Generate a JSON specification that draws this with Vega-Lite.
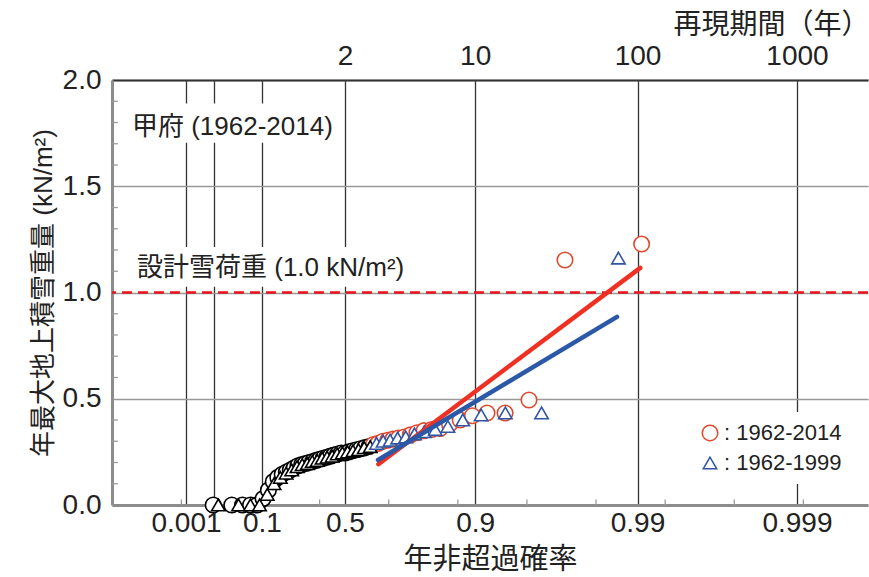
{
  "$schema": "https://vega.github.io/schema/vega-lite/v6.json",
  "width": 756,
  "height": 425,
  "autosize": "none",
  "padding": {"left": 112, "top": 80, "right": 1, "bottom": 72},
  "background": "white",
  "config": {"view": {"stroke": null}, "font": "Liberation Sans, Noto Sans CJK JP"},
  "resolve": {"axis": {"x": "independent"}},
  "datasets": {
    "pts": [
      {"series": "1962-2014", "gumbel": -1.5397, "snow": 0},
      {"series": "1962-2014", "gumbel": -1.2711, "snow": 0},
      {"series": "1962-2014", "gumbel": -1.1165, "snow": 0},
      {"series": "1962-2014", "gumbel": -0.9997, "snow": 0},
      {"series": "1962-2014", "gumbel": -0.9027, "snow": 0},
      {"series": "1962-2014", "gumbel": -0.8177, "snow": 0.03},
      {"series": "1962-2014", "gumbel": -0.7412, "snow": 0.07},
      {"series": "1962-2014", "gumbel": -0.6706, "snow": 0.11},
      {"series": "1962-2014", "gumbel": -0.6045, "snow": 0.13},
      {"series": "1962-2014", "gumbel": -0.5417, "snow": 0.145},
      {"series": "1962-2014", "gumbel": -0.4817, "snow": 0.155},
      {"series": "1962-2014", "gumbel": -0.4239, "snow": 0.165},
      {"series": "1962-2014", "gumbel": -0.3678, "snow": 0.175},
      {"series": "1962-2014", "gumbel": -0.3130, "snow": 0.185},
      {"series": "1962-2014", "gumbel": -0.2593, "snow": 0.19},
      {"series": "1962-2014", "gumbel": -0.2066, "snow": 0.195},
      {"series": "1962-2014", "gumbel": -0.1544, "snow": 0.2},
      {"series": "1962-2014", "gumbel": -0.1026, "snow": 0.205},
      {"series": "1962-2014", "gumbel": -0.0512, "snow": 0.21},
      {"series": "1962-2014", "gumbel": 0.0001, "snow": 0.215},
      {"series": "1962-2014", "gumbel": 0.0514, "snow": 0.22},
      {"series": "1962-2014", "gumbel": 0.1029, "snow": 0.225},
      {"series": "1962-2014", "gumbel": 0.1547, "snow": 0.23},
      {"series": "1962-2014", "gumbel": 0.2067, "snow": 0.235},
      {"series": "1962-2014", "gumbel": 0.2593, "snow": 0.24},
      {"series": "1962-2014", "gumbel": 0.3125, "snow": 0.245},
      {"series": "1962-2014", "gumbel": 0.3665, "snow": 0.245},
      {"series": "1962-2014", "gumbel": 0.4214, "snow": 0.25},
      {"series": "1962-2014", "gumbel": 0.4774, "snow": 0.255},
      {"series": "1962-2014", "gumbel": 0.5347, "snow": 0.26},
      {"series": "1962-2014", "gumbel": 0.5932, "snow": 0.265},
      {"series": "1962-2014", "gumbel": 0.6534, "snow": 0.27},
      {"series": "1962-2014", "gumbel": 0.7154, "snow": 0.275},
      {"series": "1962-2014", "gumbel": 0.7793, "snow": 0.285},
      {"series": "1962-2014", "gumbel": 0.8456, "snow": 0.29},
      {"series": "1962-2014", "gumbel": 0.9143, "snow": 0.3},
      {"series": "1962-2014", "gumbel": 0.9862, "snow": 0.305},
      {"series": "1962-2014", "gumbel": 1.0615, "snow": 0.31},
      {"series": "1962-2014", "gumbel": 1.1407, "snow": 0.315},
      {"series": "1962-2014", "gumbel": 1.2242, "snow": 0.32},
      {"series": "1962-2014", "gumbel": 1.3130, "snow": 0.33},
      {"series": "1962-2014", "gumbel": 1.4081, "snow": 0.34},
      {"series": "1962-2014", "gumbel": 1.5105, "snow": 0.35},
      {"series": "1962-2014", "gumbel": 1.6220, "snow": 0.355},
      {"series": "1962-2014", "gumbel": 1.7441, "snow": 0.36},
      {"series": "1962-2014", "gumbel": 1.8800, "snow": 0.38},
      {"series": "1962-2014", "gumbel": 2.0340, "snow": 0.4},
      {"series": "1962-2014", "gumbel": 2.2110, "snow": 0.42},
      {"series": "1962-2014", "gumbel": 2.4224, "snow": 0.433},
      {"series": "1962-2014", "gumbel": 2.6836, "snow": 0.433},
      {"series": "1962-2014", "gumbel": 3.0299, "snow": 0.494},
      {"series": "1962-2014", "gumbel": 3.5505, "snow": 1.153},
      {"series": "1962-2014", "gumbel": 4.6594, "snow": 1.228},
      {"series": "1962-1999", "gumbel": -1.4658, "snow": 0},
      {"series": "1962-1999", "gumbel": -1.1731, "snow": 0},
      {"series": "1962-1999", "gumbel": -1.0011, "snow": 0},
      {"series": "1962-1999", "gumbel": -0.8691, "snow": 0},
      {"series": "1962-1999", "gumbel": -0.7578, "snow": 0.05},
      {"series": "1962-1999", "gumbel": -0.6591, "snow": 0.1},
      {"series": "1962-1999", "gumbel": -0.5685, "snow": 0.13},
      {"series": "1962-1999", "gumbel": -0.4842, "snow": 0.15},
      {"series": "1962-1999", "gumbel": -0.4038, "snow": 0.165},
      {"series": "1962-1999", "gumbel": -0.3266, "snow": 0.18},
      {"series": "1962-1999", "gumbel": -0.2517, "snow": 0.19},
      {"series": "1962-1999", "gumbel": -0.1782, "snow": 0.195},
      {"series": "1962-1999", "gumbel": -0.1060, "snow": 0.205},
      {"series": "1962-1999", "gumbel": -0.0343, "snow": 0.21},
      {"series": "1962-1999", "gumbel": 0.0372, "snow": 0.22},
      {"series": "1962-1999", "gumbel": 0.1089, "snow": 0.225},
      {"series": "1962-1999", "gumbel": 0.1812, "snow": 0.23},
      {"series": "1962-1999", "gumbel": 0.2544, "snow": 0.24},
      {"series": "1962-1999", "gumbel": 0.3289, "snow": 0.245},
      {"series": "1962-1999", "gumbel": 0.4048, "snow": 0.25},
      {"series": "1962-1999", "gumbel": 0.4828, "snow": 0.255},
      {"series": "1962-1999", "gumbel": 0.5630, "snow": 0.26},
      {"series": "1962-1999", "gumbel": 0.6461, "snow": 0.27},
      {"series": "1962-1999", "gumbel": 0.7327, "snow": 0.275},
      {"series": "1962-1999", "gumbel": 0.8235, "snow": 0.29},
      {"series": "1962-1999", "gumbel": 0.9191, "snow": 0.3},
      {"series": "1962-1999", "gumbel": 1.0205, "snow": 0.305},
      {"series": "1962-1999", "gumbel": 1.1291, "snow": 0.315},
      {"series": "1962-1999", "gumbel": 1.2459, "snow": 0.32},
      {"series": "1962-1999", "gumbel": 1.3736, "snow": 0.335},
      {"series": "1962-1999", "gumbel": 1.5146, "snow": 0.345},
      {"series": "1962-1999", "gumbel": 1.6734, "snow": 0.355},
      {"series": "1962-1999", "gumbel": 1.8559, "snow": 0.37},
      {"series": "1962-1999", "gumbel": 2.0715, "snow": 0.4},
      {"series": "1962-1999", "gumbel": 2.3368, "snow": 0.424},
      {"series": "1962-1999", "gumbel": 2.6875, "snow": 0.433},
      {"series": "1962-1999", "gumbel": 3.2119, "snow": 0.433},
      {"series": "1962-1999", "gumbel": 4.3237, "snow": 1.162}
    ],
    "fitRed": [
      {"gumbel": 0.85, "snow": 0.192},
      {"gumbel": 4.64, "snow": 1.116}
    ],
    "fitBlue": [
      {"gumbel": 0.845, "snow": 0.212},
      {"gumbel": 4.303, "snow": 0.885}
    ],
    "labels": [
      {"gumbel": -2.715, "snow": 1.779, "text": "甲府 (1962-2014)"},
      {"gumbel": -2.642, "snow": 1.115, "text": "設計雪荷重 (1.0 kN/m²)"}
    ],
    "minorY": [
      {"snow": 0.1}, {"snow": 0.2}, {"snow": 0.3}, {"snow": 0.4}, {"snow": 0.6},
      {"snow": 0.7}, {"snow": 0.8}, {"snow": 0.9}, {"snow": 1.1}, {"snow": 1.2},
      {"snow": 1.3}, {"snow": 1.4}, {"snow": 1.6}, {"snow": 1.7}, {"snow": 1.8}, {"snow": 1.9}
    ],
    "minorX": [
      {"gumbel": -2}, {"gumbel": -1}, {"gumbel": 0}, {"gumbel": 1}, {"gumbel": 2},
      {"gumbel": 3}, {"gumbel": 4}, {"gumbel": 5}, {"gumbel": 6}, {"gumbel": 7}
    ]
  },
  "layer": [
    {
      "data": {"name": "minorY"},
      "mark": {"type": "rule", "color": "#9a9a9a", "strokeWidth": 1.3},
      "encoding": {
        "x": {
          "datum": -3.004, "type": "quantitative",
          "scale": {"domain": [-3.004, 7.935], "nice": false, "zero": false},
          "axis": {
            "orient": "bottom",
            "values": [-1.9326, -1.5272, -0.834, 0.3665, 2.2504, 4.6001, 6.9073],
            "labelExpr": "datum.value < -1.8 ? '0.001' : datum.value < -1.4 ? '' : datum.value < -0.5 ? '0.1' : datum.value < 1 ? '0.5' : datum.value < 3 ? '0.9' : datum.value < 5 ? '0.99' : '0.999'",
            "grid": true, "gridColor": "#333333", "gridWidth": 1.3,
            "domain": true, "domainColor": "#8c8c8c", "domainWidth": 3,
            "ticks": false,
            "labelFontSize": 28, "labelColor": "#222222", "labelPadding": 4, "labelFont": "Liberation Sans",
            "labelOverlap": false,
            "title": "年非超過確率", "titleFontSize": 29, "titleFontWeight": "normal", "titleColor": "#222222",
            "titlePadding": 8, "titleFont": "Noto Sans CJK JP"
          }
        },
        "x2": {"datum": -2.92},
        "y": {
          "field": "snow", "type": "quantitative",
          "scale": {"domain": [0, 2], "nice": false},
          "axis": {
            "values": [0, 0.5, 1.0, 1.5, 2.0],
            "format": ".1f",
            "grid": true, "gridColor": "#999999", "gridWidth": 1.5,
            "domain": true, "domainColor": "#8c8c8c", "domainWidth": 3,
            "ticks": false,
            "labelFontSize": 28, "labelColor": "#222222", "labelPadding": 11, "labelFont": "Liberation Sans",
            "labelOverlap": false,
            "title": "年最大地上積雪重量 (kN/m²)", "titleFontSize": 26, "titleFontWeight": "normal", "titleColor": "#222222",
            "titlePadding": 6
          }
        }
      }
    },
    {
      "data": {"name": "minorX"},
      "mark": {"type": "rule", "color": "#9a9a9a", "strokeWidth": 1.3},
      "encoding": {
        "x": {"field": "gumbel", "type": "quantitative", "axis": null},
        "y": {"datum": 0, "type": "quantitative"},
        "y2": {"datum": 0.026}
      }
    },
    {
      "data": {"name": "pts"},
      "mark": {"type": "point", "filled": true, "fill": "white", "strokeWidth": 1.6, "opacity": 1},
      "encoding": {
        "x": {"field": "gumbel", "type": "quantitative", "axis": null},
        "y": {"field": "snow", "type": "quantitative"},
        "shape": {
          "field": "series", "type": "nominal",
          "scale": {"domain": ["1962-2014", "1962-1999"], "range": ["circle", "triangle-up"]},
          "legend": {
            "orient": "none", "legendX": 577, "legendY": 332,
            "fillColor": "white", "padding": 10, "title": null,
            "labelExpr": "': ' + datum.label", "labelFontSize": 22, "labelColor": "#222222", "labelFont": "Liberation Sans",
            "symbolStrokeWidth": 1.5, "symbolFillColor": "white",
            "rowPadding": 8, "labelOffset": 3
          }
        },
        "stroke": {
          "condition": {"test": "datum.snow < 0.28", "value": "black"},
          "field": "series", "type": "nominal",
          "scale": {"domain": ["1962-2014", "1962-1999"], "range": ["#e0482e", "#2f55a4"]}
        },
        "size": {
          "field": "series", "type": "nominal",
          "scale": {"domain": ["1962-2014", "1962-1999"], "range": [240, 180]}
        }
      }
    },
    {
      "data": {"values": [{"snow": 1.0}]},
      "mark": {"type": "rule", "color": "#e8141c", "strokeWidth": 2.5, "strokeDash": [10, 6]},
      "encoding": {
        "y": {"field": "snow", "type": "quantitative"}
      }
    },
    {
      "data": {"name": "fitRed"},
      "mark": {"type": "line", "color": "#ee3124", "strokeWidth": 4.5, "strokeCap": "round"},
      "encoding": {
        "x": {
          "field": "gumbel", "type": "quantitative",
          "axis": {
            "orient": "top",
            "values": [0.3665, 2.2504, 4.6001, 6.9073],
            "labelExpr": "datum.value < 1 ? '2' : datum.value < 3 ? '10' : datum.value < 5 ? '100' : '1000'",
            "grid": false,
            "domain": true, "domainColor": "#333333", "domainWidth": 2,
            "ticks": false,
            "labelFontSize": 28, "labelColor": "#222222", "labelPadding": 10, "labelFont": "Liberation Sans",
            "labelOverlap": false,
            "title": "再現期間（年）", "titleFontSize": 28, "titleFontWeight": "normal", "titleColor": "#222222",
            "titleAnchor": "end", "titleAlign": "right", "titleX": 757, "titlePadding": 3, "titleFont": "Noto Sans CJK JP"
          }
        },
        "y": {"field": "snow", "type": "quantitative"}
      }
    },
    {
      "data": {"name": "fitBlue"},
      "mark": {"type": "line", "color": "#2b59a8", "strokeWidth": 4.5, "strokeCap": "round"},
      "encoding": {
        "x": {"field": "gumbel", "type": "quantitative", "axis": null},
        "y": {"field": "snow", "type": "quantitative"}
      }
    },
    {
      "data": {"values": [{"box": "a"}]},
      "mark": {"type": "rect", "color": "white"},
      "encoding": {
        "x": {"datum": -2.82, "type": "quantitative", "axis": null},
        "x2": {"datum": 0.22},
        "y": {"datum": 1.705, "type": "quantitative"},
        "y2": {"datum": 1.89}
      }
    },
    {
      "data": {"values": [{"box": "b"}]},
      "mark": {"type": "rect", "color": "white"},
      "encoding": {
        "x": {"datum": -2.75, "type": "quantitative", "axis": null},
        "x2": {"datum": 1.31},
        "y": {"datum": 1.027, "type": "quantitative"},
        "y2": {"datum": 1.214}
      }
    },
    {
      "data": {"name": "labels"},
      "mark": {"type": "text", "align": "left", "baseline": "middle", "fontSize": 26, "color": "#222222"},
      "encoding": {
        "x": {"field": "gumbel", "type": "quantitative", "axis": null},
        "y": {"field": "snow", "type": "quantitative"},
        "text": {"field": "text"}
      }
    }
  ]
}
